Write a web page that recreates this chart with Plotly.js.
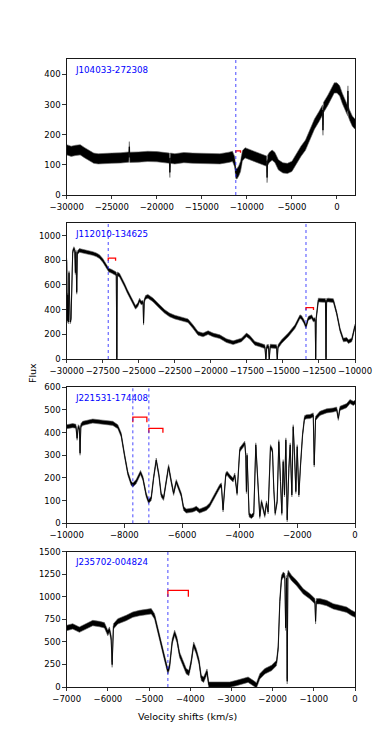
<!DOCTYPE html>
<html><head><meta charset="utf-8">
<script src="https://cdn.plot.ly/plotly-3.0.1.min.js"></script>
<style>html,body{margin:0;padding:0;background:#fff}</style>
</head><body><div id="chart" style="width:374px;height:747px"></div>
<script>
// ---------------- data ----------------
const names = ["J104033-272308", "J112010-134625", "J221531-174408", "J235702-004824"];

const x1 = [-30000,-29500,-29000,-28500,-28000,-27500,-27000,-26500,-26000,-25000,-24000,-23100,-23050,-23000,-22000,-21000,-20000,-19000,-18600,-18550,-18500,-18000,-17000,-16000,-15000,-14000,-13000,-12000,-11600,-11350,-11230,-11100,-10900,-10700,-10500,-10200,-9800,-9200,-8600,-8000,-7800,-7760,-7700,-7500,-7200,-6900,-6500,-6000,-5500,-5000,-4500,-4000,-3500,-3000,-2500,-2000,-1600,-1556,-1500,-1000,-600,-300,0,300,600,1000,1180,1215,1250,1400,1700,2000];
const f1 = [150,145,148,150,140,130,122,120,120,122,123,126,160,125,126,128,127,125,122,75,122,120,124,122,122,120,120,125,128,110,72,70,80,95,130,140,135,130,120,115,112,58,115,125,132,125,100,90,88,95,120,145,165,200,235,260,282,215,290,315,340,355,355,345,320,290,280,345,278,265,245,235];

const x2 = [-30000,-29960,-29920,-29880,-29840,-29800,-29760,-29700,-29640,-29583,-29500,-29440,-29397,-29360,-29305,-29260,-29119,-28900,-28656,-28400,-28192,-27950,-27728,-27500,-27265,-27079,-26900,-26700,-26560,-26523,-26490,-26338,-26150,-25990,-25800,-25642,-25450,-25225,-25063,-24947,-24831,-24700,-24669,-24620,-24530,-24367,-24020,-23800,-23556,-23200,-22861,-22500,-22165,-21800,-21585,-21238,-20890,-20542,-20193,-19845,-19381,-18918,-18454,-17875,-17527,-17295,-16947,-16600,-16252,-16182,-16120,-16000,-15950,-15880,-15440,-15394,-15340,-15093,-14630,-14166,-13818,-13702,-13540,-13401,-13238,-13007,-12891,-12760,-12728,-12690,-12600,-12543,-12195,-12050,-12010,-11970,-11848,-11500,-11268,-11036,-10805,-10573,-10457,-10225,-10000];
const f2 = [800,310,520,300,700,420,300,320,600,870,895,880,700,870,540,860,880,875,870,865,855,845,830,800,760,720,712,700,690,0,690,680,640,600,550,515,460,419,440,478,455,460,290,470,500,508,480,450,425,385,357,340,330,318,310,262,208,195,214,195,181,149,132,154,195,176,127,114,100,0,100,102,0,105,100,0,100,141,195,262,343,335,303,262,330,343,316,320,0,330,440,478,475,475,0,475,478,473,370,235,154,159,141,154,268];

const x3 = [-10000,-9791,-9680,-9640,-9600,-9560,-9537,-9510,-9444,-9096,-8749,-8401,-8227,-8111,-7995,-7880,-7764,-7706,-7590,-7439,-7358,-7242,-7161,-7069,-6987,-6895,-6802,-6721,-6640,-6570,-6466,-6373,-6292,-6199,-6107,-6026,-5945,-5852,-5620,-5504,-5389,-5156,-5040,-4867,-4693,-4635,-4577,-4484,-4438,-4345,-4229,-4171,-4090,-3998,-3882,-3824,-3789,-3766,-3743,-3673,-3592,-3511,-3441,-3360,-3302,-3244,-3186,-3129,-3071,-3013,-2932,-2862,-2816,-2769,-2700,-2642,-2584,-2538,-2491,-2445,-2398,-2352,-2294,-2248,-2190,-2144,-2097,-2051,-2005,-1947,-1889,-1819,-1750,-1680,-1564,-1448,-1414,-1367,-1217,-985,-753,-637,-579,-521,-290,-174,-58,0];
const f3 = [426,431,428,375,426,420,309,430,441,451,446,441,426,390,301,221,176,169,184,224,199,125,96,110,199,279,213,125,110,169,250,184,132,184,147,125,66,54,59,66,54,66,81,125,162,169,59,213,221,206,191,213,132,324,346,353,300,140,300,37,30,40,346,140,30,95,60,35,90,50,338,320,150,44,96,360,184,44,272,125,368,15,243,346,125,426,301,140,338,125,257,390,466,470,471,478,257,463,485,496,500,504,463,507,519,537,529,534];

const x4 = [-7000,-6854,-6692,-6530,-6367,-6205,-6084,-6002,-5962,-5921,-5897,-5865,-5759,-5556,-5394,-5232,-5070,-4948,-4867,-4786,-4705,-4624,-4543,-4502,-4437,-4380,-4324,-4259,-4178,-4097,-4032,-3975,-3918,-3853,-3788,-3732,-3675,-3610,-3593,-3552,-3447,-3284,-3041,-2879,-2717,-2595,-2473,-2392,-2311,-2190,-2027,-1906,-1865,-1825,-1784,-1743,-1703,-1684,-1662,-1646,-1630,-1622,-1541,-1419,-1257,-1095,-973,-957,-940,-851,-689,-527,-365,-203,-81,0];
const f4 = [654,672,636,672,709,698,684,599,636,543,248,672,728,765,802,820,831,839,783,617,469,321,174,229,506,599,525,358,266,174,155,284,469,395,284,100,81,150,170,26,26,26,26,44,63,81,44,18,118,174,211,266,432,950,1208,1245,1227,656,1208,63,1250,1264,1208,1153,1060,1005,950,728,950,950,931,894,876,857,820,802];

// noise half-widths of each spectrum (flux units)
const noise = [17, 15, 9, 30];

// blue dotted velocity markers
const vlines = [[-11230], [-27120, -13400], [-7706, -7150], [-4543]];
// red brackets: start, end, top level, tick bottom
const brX0 = [[-11230], [-27120, -13400], [-7706, -7150], [-4543]];
const brX1 = [[-10710], [-26610, -12880], [-7219, -6663], [-4046]];
const brTop = [[146], [817, 416], [468, 419], [1072]];
const brBot = [[140], [797, 397], [446, 400], [1001]];

const xRanges = [[-30000, 2000], [-30000, -10000], [-10000, 0], [-7000, 0]];
const yRanges = [[0, 450], [0, 1100], [0, 600], [0, 1500]];
const xDticks = [5000, 2500, 2000, 1000];
const yDticks = [100, 200, 100, 250];

// ---------------- build ----------------
const XS = [x1, x2, x3, x4], FS = [f1, f2, f3, f4];
const W = 374, H = 747;
const left = 66.7, right = 355;
const tops = [59.3, 223.3, 387.3, 551.7], bots = [195, 359, 523.3, 687];
const font = "DejaVu Sans, sans-serif";

const traces = [], shapes = [], annotations = [];
const layout = {
  width: W, height: H, margin: {l: 0, r: 0, t: 0, b: 0},
  paper_bgcolor: "#fff", plot_bgcolor: "#fff", showlegend: false,
  font: {family: font, size: 8.5, color: "#000"}
};

for (let i = 0; i < 4; i++) {
  const s = i === 0 ? "" : String(i + 1);
  const xa = "x" + s, ya = "y" + s;
  const n = noise[i];
  const lo = FS[i].map(v => v - n), hi = FS[i].map(v => v + n);
  traces.push({x: XS[i], y: lo, xaxis: xa, yaxis: ya, mode: "lines", line: {width: 0.6, color: "#666"}, hoverinfo: "skip"});
  traces.push({x: XS[i], y: hi, xaxis: xa, yaxis: ya, mode: "lines", line: {width: 0.6, color: "#666"}, fill: "tonexty", fillcolor: "#000", hoverinfo: "skip"});
  traces.push({x: XS[i], y: FS[i], xaxis: xa, yaxis: ya, mode: "lines", line: {width: 0.9, color: "#000"}});
  for (let k = 0; k < brX0[i].length; k++) {
    traces.push({x: [brX0[i][k], brX0[i][k], brX1[i][k], brX1[i][k]], y: [brBot[i][k], brTop[i][k], brTop[i][k], brBot[i][k]],
      xaxis: xa, yaxis: ya, mode: "lines", line: {width: 1.3, color: "#ff0000"}});
  }
  vlines[i].forEach(v => shapes.push({type: "line", xref: xa, yref: ya + " domain", x0: v, x1: v, y0: 0, y1: 1,
    line: {color: "rgba(40,40,255,0.85)", width: 1, dash: "dot"}}));
  const axCommon = {showgrid: false, zeroline: false, showline: true, mirror: true, linecolor: "#000", linewidth: 0.9,
    ticks: "outside", ticklen: 3.5, tickwidth: 0.8, tickcolor: "#000", tickangle: 0,
    tickfont: {family: font, size: 8.5, color: "#000"}, tickformat: "d"};
  layout["xaxis" + s] = Object.assign({}, axCommon, {domain: [left / W, right / W], range: xRanges[i], dtick: xDticks[i], tick0: 0, anchor: ya});
  layout["yaxis" + s] = Object.assign({}, axCommon, {domain: [1 - bots[i] / H, 1 - tops[i] / H], range: yRanges[i], dtick: yDticks[i], tick0: 0, anchor: xa});
  annotations.push({xref: xa + " domain", yref: ya + " domain", x: 0.021, y: 0.921, xanchor: "left", yanchor: "middle",
    text: names[i], showarrow: false, font: {family: font, size: 8.7, color: "#0000ff"}});
}
annotations.push({xref: "paper", yref: "paper", x: 187 / W, y: 1 - 716.7 / H, text: "Velocity shifts (km/s)", showarrow: false,
  xanchor: "center", yanchor: "middle", font: {family: font, size: 9.5, color: "#000"}});
annotations.push({xref: "paper", yref: "paper", x: 32 / W, y: 1 - 373 / H, text: "Flux", showarrow: false, textangle: -90,
  xanchor: "center", yanchor: "middle", font: {family: font, size: 9.5, color: "#000"}});
layout.shapes = shapes;
layout.annotations = annotations;

Plotly.newPlot("chart", traces, layout, {staticPlot: true, displayModeBar: false});
</script></body></html>
